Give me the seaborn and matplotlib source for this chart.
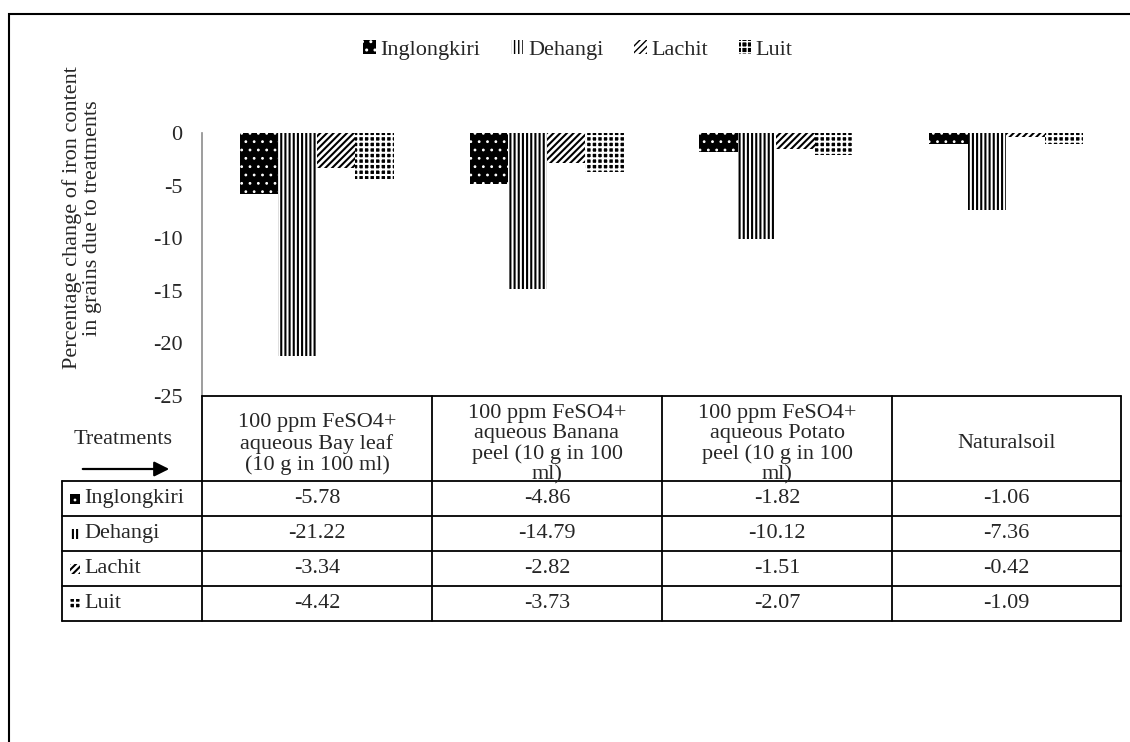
import matplotlib
matplotlib.use("Agg")
import matplotlib.pyplot as plt
from matplotlib.patches import Rectangle, Patch, FancyArrowPatch
from matplotlib.lines import Line2D
import seaborn as sns
import pandas as pd

# Treatments and varieties
treatments = [
    "100 ppm FeSO4+\naqueous Bay leaf\n(10 g in 100 ml)",
    "100 ppm FeSO4+\naqueous Banana\npeel (10 g in 100\nml)",
    "100 ppm FeSO4+\naqueous Potato\npeel (10 g in 100\nml)",
    "Naturalsoil",
]
varieties = ["Inglongkiri", "Dehangi", "Lachit", "Luit"]

# Percentage change of iron content in grains
inglongkiri = [-5.78, -4.86, -1.82, -1.06]
dehangi = [-21.22, -14.79, -10.12, -7.36]
lachit = [-3.34, -2.82, -1.51, -0.42]
luit = [-4.42, -3.73, -2.07, -1.09]

yticks = [0, -5, -10, -15, -20, -25]

series = [inglongkiri, dehangi, lachit, luit]
df = pd.DataFrame(
    [(t, v, s[i]) for v, s in zip(varieties, series) for i, t in enumerate(treatments)],
    columns=["Treatment", "Variety", "Change"],
)

sns.set_theme(style="white")
plt.rcParams["font.family"] = ["Liberation Serif", "DejaVu Serif"]
plt.rcParams["axes.unicode_minus"] = False

FS = 16
W, H = 1130, 742
fig = plt.figure(figsize=(W / 100, H / 100), dpi=100)


def fx(px):
    return px / W


def fy(py):
    return 1 - py / H


# fill styles per variety: (facecolor, hatch colour, hatch, hatch line width)
styles = {
    "Inglongkiri": ("black", "white", "..", 0.8),
    "Dehangi": ("white", "black", "||||", 1.5),
    "Lachit": ("white", "black", "/////", 1.5),
    "Luit": ("black", "white", "+++", 1.5),
}


def apply_style(patch, var):
    fc, hc, hatch, hlw = styles[var]
    patch.set_facecolor(fc)
    patch.set_edgecolor(hc)
    patch.set_hatch(hatch)
    patch.set_linewidth(0)
    if hasattr(patch, "set_hatch_linewidth"):
        patch.set_hatch_linewidth(hlw)
    else:
        patch._hatch_linewidth = hlw
    return patch


ax_left, ax_right, ax_top, ax_bot = 202, 1121, 133, 396
ax = fig.add_axes([fx(ax_left), fy(ax_bot), fx(ax_right - ax_left), (ax_bot - ax_top) / H])
sns.barplot(data=df, x="Treatment", y="Change", hue="Variety", hue_order=varieties,
            order=treatments, width=0.67, gap=0, ax=ax, legend=False, errorbar=None)
for cont, var in zip(ax.containers, varieties):
    for bar in cont:
        apply_style(bar, var)

ax.set_xlim(-0.5, 3.5)
ax.set_ylim(-25, 0)
ax.set_yticks(yticks)
ax.set_yticklabels([str(v) for v in yticks])
ax.tick_params(axis="y", length=0, pad=14, labelsize=FS)
ax.set_xticks([])
ax.set_xlabel("")
ax.set_ylabel("")
for s in ["top", "right", "bottom"]:
    ax.spines[s].set_visible(False)
ax.spines["left"].set_color("#8c8c8c")
ax.spines["left"].set_linewidth(1.2)
ax.patch.set_alpha(0)

fig.text(fx(82), fy(218), "Percentage change of iron content\nin grains due to treatments",
         rotation=90, ha="center", va="center", fontsize=FS, linespacing=1.1)

# legend
handles = [apply_style(Patch(label=var), var) for var in varieties]
fig.legend(handles=handles, loc="center", bbox_to_anchor=(fx(578), fy(50)), ncol=4,
           frameon=False, fontsize=FS, handlelength=0.55, handleheight=0.55,
           handletextpad=0.2, columnspacing=1.4)

# data table below the axes
col_edges = [202, 432, 662, 892, 1121]
row_edges = [481, 516, 551, 586, 621]
left_edge = 62
lw = 1.3
lines = [((col_edges[0], col_edges[-1]), (396, 396))]
for y in row_edges:
    lines.append(((left_edge, col_edges[-1]), (y, y)))
for x in col_edges:
    lines.append(((x, x), (396, row_edges[-1])))
lines.append(((left_edge, left_edge), (row_edges[0], row_edges[-1])))
for xs, ys in lines:
    fig.add_artist(Line2D([fx(xs[0]), fx(xs[1])], [fy(ys[0]), fy(ys[1])],
                          color="black", linewidth=lw, transform=fig.transFigure))

for i, t in enumerate(treatments):
    cx = (col_edges[i] + col_edges[i + 1]) / 2
    fig.text(fx(cx), fy(444), t, ha="center", va="center", fontsize=FS, linespacing=1.08)

fig.text(fx(123), fy(440), "Treatments", ha="center", va="center", fontsize=FS)
fig.add_artist(FancyArrowPatch(
    (fx(80), fy(469)), (fx(172), fy(469)), transform=fig.transFigure,
    arrowstyle="-|>,head_length=9,head_width=4.5", mutation_scale=1, color="black",
    linewidth=1.6))

for r, (var, s) in enumerate(zip(varieties, series)):
    cy = (row_edges[r] + row_edges[r + 1]) / 2
    icon = Rectangle((fx(70), fy(cy + 5)), fx(10), 10 / H, transform=fig.transFigure)
    fig.add_artist(apply_style(icon, var))
    fig.text(fx(84), fy(cy), var, ha="left", va="center", fontsize=FS)
    for i, v in enumerate(s):
        cx = (col_edges[i] + col_edges[i + 1]) / 2
        fig.text(fx(cx), fy(cy), f"{v:.2f}", ha="center", va="center", fontsize=FS)

# outer frame
fig.add_artist(Rectangle((fx(9), fy(760)), fx(1140), 746 / H, fill=False, edgecolor="black",
                         linewidth=1.5, transform=fig.transFigure))

fig.savefig("out.png", dpi=100)
